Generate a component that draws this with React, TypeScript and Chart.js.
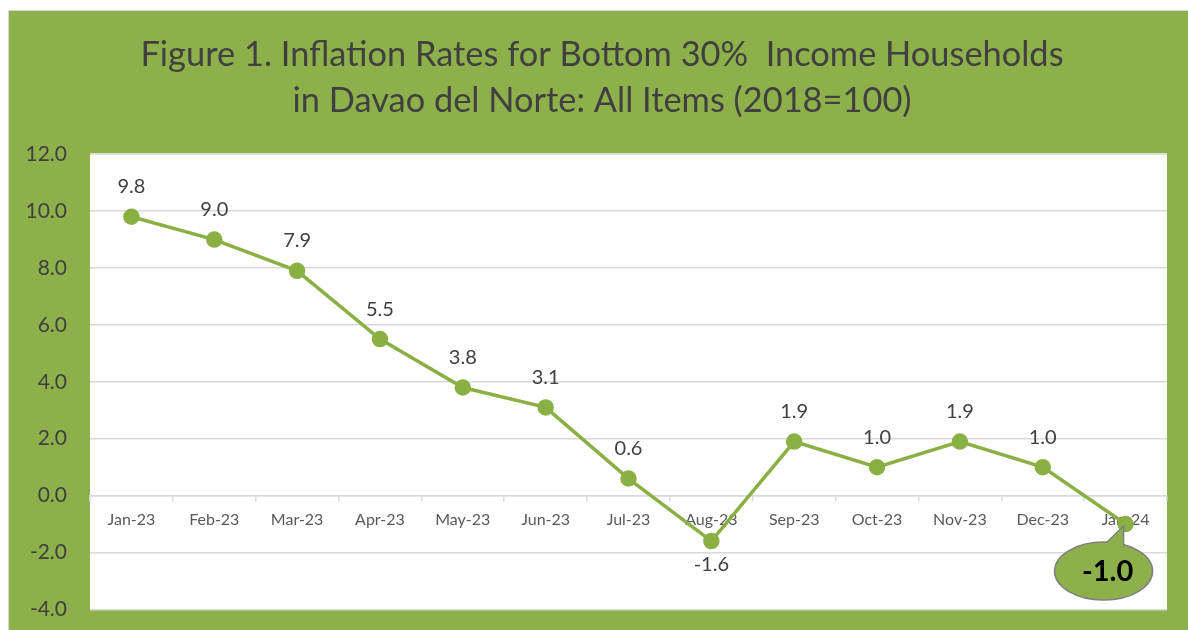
import React, { useEffect, useRef } from "react";
import { Chart, registerables } from "chart.js";

Chart.register(...registerables);

const categories = ["Jan-23", "Feb-23", "Mar-23", "Apr-23", "May-23", "Jun-23", "Jul-23", "Aug-23", "Sep-23", "Oct-23", "Nov-23", "Dec-23", "Jan-24"];
const inflation = [9.8, 9.0, 7.9, 5.5, 3.8, 3.1, 0.6, -1.6, 1.9, 1.0, 1.9, 1.0, -1.0];
const titleLines = ["Figure 1. Inflation Rates for Bottom 30%  Income Households", "in Davao del Norte: All Items (2018=100)"];

const GREEN = "#8db04a";
const LINE = "#8ab044";
const FONT = "Lato, 'Open Sans', sans-serif";

const bgPlugin = {
  id: "bg",
  beforeDraw(chart: any) {
    const { ctx, chartArea } = chart;
    ctx.save();
    ctx.fillStyle = GREEN;
    ctx.fillRect(0, 0, chart.width, chart.height);
    ctx.fillStyle = "#ffffff";
    ctx.fillRect(chartArea.left, chartArea.top, chartArea.right - chartArea.left, chartArea.bottom - chartArea.top);
    ctx.restore();
  },
};

const labelPlugin = {
  id: "dlabels",
  afterDatasetsDraw(chart: any) {
    const { ctx } = chart;
    const meta = chart.getDatasetMeta(0);
    const data = chart.data.datasets[0].data as number[];
    ctx.save();
    ctx.textAlign = "center";
    ctx.textBaseline = "middle";
    meta.data.forEach((pt: any, i: number) => {
      const v = data[i];
      const text = v.toFixed(1);
      if (i === data.length - 1) {
        const cx = pt.x - 22;
        const cy = pt.y + 47;
        const rx = 49;
        const ry = 29;
        ctx.beginPath();
        ctx.ellipse(cx, cy, rx, ry, 0, 0, Math.PI * 2);
        ctx.fillStyle = GREEN;
        ctx.fill();
        ctx.strokeStyle = "#7f7f7f";
        ctx.lineWidth = 1.5;
        ctx.stroke();
        ctx.beginPath();
        ctx.moveTo(cx + 3, cy - ry + 1);
        ctx.lineTo(pt.x - 2, pt.y + 2);
        ctx.lineTo(cx + 20, cy - ry + 6);
        ctx.closePath();
        ctx.fillStyle = GREEN;
        ctx.fill();
        ctx.beginPath();
        ctx.moveTo(cx + 3, cy - ry + 0.5);
        ctx.lineTo(pt.x - 2, pt.y + 2);
        ctx.lineTo(cx + 20, cy - ry + 5);
        ctx.strokeStyle = "#7f7f7f";
        ctx.stroke();
        ctx.fillStyle = "#000000";
        ctx.font = `bold 29px ${FONT}`;
        ctx.fillText(text, cx + 4, cy + 1);
      } else {
        ctx.fillStyle = "#404040";
        ctx.font = `20px ${FONT}`;
        const dy = v < 0 ? 23 : -30;
        ctx.fillText(text, pt.x, pt.y + dy);
      }
    });
    ctx.restore();
  },
};

export default function App() {
  const ref = useRef<HTMLCanvasElement | null>(null);
  useEffect(() => {
    if (!ref.current) return;
    const chart = new Chart(ref.current, {
      type: "line",
      data: {
        labels: categories,
        datasets: [
          {
            data: inflation,
            borderColor: LINE,
            backgroundColor: LINE,
            borderWidth: 3.5,
            pointRadius: 6.5,
            pointBackgroundColor: LINE,
            pointBorderColor: LINE,
            tension: 0,
          },
        ],
      },
      options: {
        responsive: false,
        animation: false,
        layout: { padding: { left: 0, right: 0, bottom: 20, top: 0 } },
        plugins: {
          legend: { display: false },
          tooltip: { enabled: false },
          title: {
            display: true,
            text: titleLines,
            color: "#404040",
            font: { family: FONT, size: 34.4, weight: "normal", lineHeight: 1.34 },
            padding: { top: 21, bottom: 30 },
          },
        },
        scales: {
          x: {
            position: { y: 0 } as any,
            offset: true,
            grid: { drawOnChartArea: false, drawTicks: true, tickLength: 5, color: "#d9d9d9", lineWidth: 1.5, offset: true },
            border: { display: true, color: "#d9d9d9", width: 1.5 },
            ticks: { color: "#595959", font: { family: FONT, size: 16 }, padding: 10, maxRotation: 0, autoSkip: false },
          },
          y: {
            min: -4,
            max: 12,
            afterFit(scale: any) {
              scale.width = 81;
            },
            border: { display: false },
            grid: { color: "#d9d9d9", lineWidth: 1.5, drawTicks: false },
            ticks: {
              stepSize: 2,
              padding: 23,
              color: "#404040",
              font: { family: FONT, size: 21 },
              callback: (v: any) => Number(v).toFixed(1),
            },
          },
          yRight: {
            type: "linear",
            position: "right",
            min: -4,
            max: 12,
            afterFit(scale: any) {
              scale.width = 28;
            },
            border: { display: false },
            grid: { display: false },
            ticks: { display: false },
          },
        },
      },
      plugins: [bgPlugin, labelPlugin],
    });
    return () => chart.destroy();
  }, []);
  return (
    <div
      style={{
        position: "fixed",
        left: 8,
        top: 10,
        width: 1180,
        height: 620,
        borderLeft: "1px solid #d9d9d9",
        borderTop: "1px solid #d9d9d9",
        boxSizing: "border-box",
        overflow: "hidden",
      }}
    >
      <canvas ref={ref} width={1186} height={634} style={{ display: "block" }} />
    </div>
  );
}
